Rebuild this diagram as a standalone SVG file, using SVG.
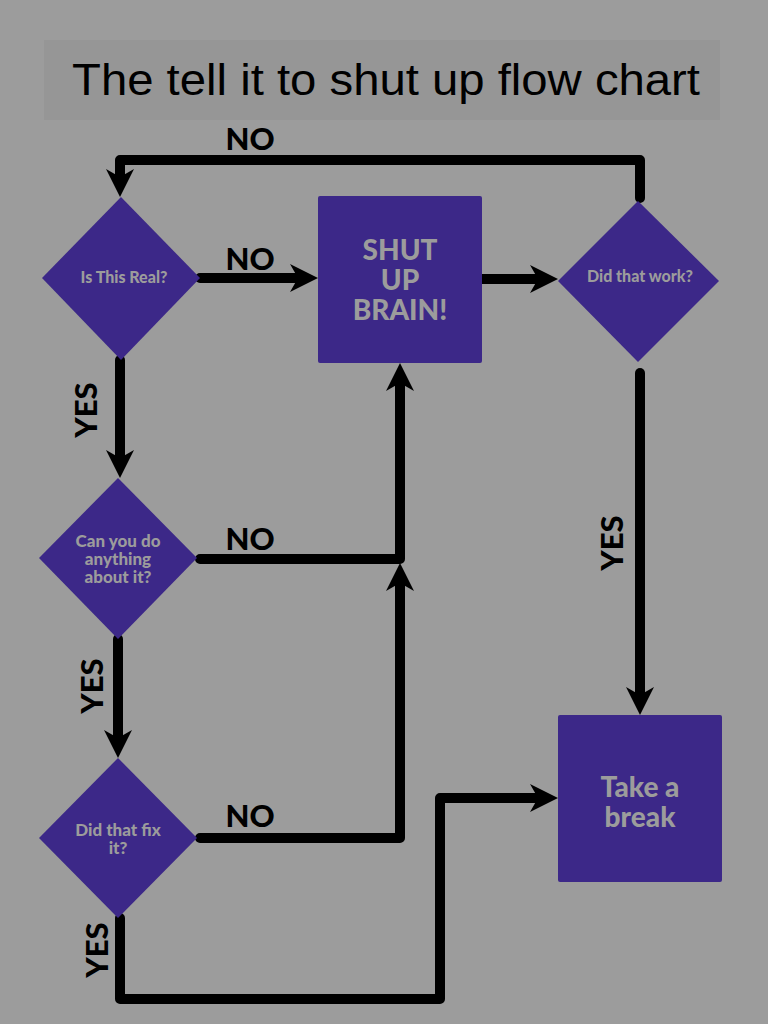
<svg xmlns="http://www.w3.org/2000/svg" width="768" height="1024" viewBox="0 0 768 1024">
<defs>
<marker id="ah" viewBox="0 0 28 28" refX="8" refY="14" markerWidth="28" markerHeight="28" markerUnits="userSpaceOnUse" orient="auto">
<path d="M0,0 L28,14 L0,28 L8,14 Z" fill="#000"/>
</marker>
<style>
.bg{fill:#9c9c9c}
.node{fill:#3c2888}
.nt{font-family:Lato,"Open Sans",sans-serif;font-weight:900;fill:#9c9c9c;text-anchor:middle}
.lbl{font-family:Lato,"Open Sans",sans-serif;font-weight:900;font-size:31px;fill:#000;text-anchor:middle}
.c{fill:none;stroke:#000;stroke-width:10;stroke-linecap:round;stroke-linejoin:round}
</style>
</defs>
<rect class="bg" x="0" y="0" width="768" height="1024"/>
<g id="title">
<rect x="44" y="40" width="676" height="80" fill="#969696"/>
<text x="72" y="95" font-family="'Liberation Sans',Arial,sans-serif" font-size="45" fill="#000" textLength="628" lengthAdjust="spacingAndGlyphs">The tell it to shut up flow chart</text>
</g>
<g id="connectors">
<path class="c" d="M640,198 V160 H120 V177" marker-end="url(#ah)"/>
<path class="c" d="M200,278 H298" marker-end="url(#ah)"/>
<path class="c" d="M482,279 H538" marker-end="url(#ah)"/>
<path class="c" d="M120,360 V458" marker-end="url(#ah)"/>
<path class="c" d="M118,639 V738" marker-end="url(#ah)"/>
<path class="c" d="M200,559 H400 V383" marker-end="url(#ah)"/>
<path class="c" d="M200,838 H400 V583" marker-end="url(#ah)"/>
<path class="c" d="M640,373 V695" marker-end="url(#ah)"/>
<path class="c" d="M120,918 V999 H440 V798 H538" marker-end="url(#ah)"/>
<text class="lbl" x="250" y="150">NO</text>
<text class="lbl" x="250" y="270">NO</text>
<text class="lbl" x="250" y="550">NO</text>
<text class="lbl" x="250" y="827">NO</text>
<text class="lbl" transform="translate(97,410) rotate(-90)">YES</text>
<text class="lbl" transform="translate(103,686) rotate(-90)">YES</text>
<text class="lbl" transform="translate(108,950) rotate(-90)">YES</text>
<text class="lbl" transform="translate(623,543) rotate(-90)">YES</text>
</g>
<g id="is-this-real">
<polygon class="node" points="121,197 200,278 121,360 42,278"/>
<text class="nt" x="124" y="283" font-size="16">Is This Real?</text>
</g>
<g id="shut-up-brain">
<rect class="node" x="318" y="196" width="164" height="167" rx="2"/>
<text class="nt" x="400" y="260" font-size="28">SHUT</text>
<text class="nt" x="400" y="290" font-size="28">UP</text>
<text class="nt" x="400" y="320" font-size="28">BRAIN!</text>
</g>
<g id="did-that-work">
<polygon class="node" points="638,201 719,281 638,362 558,281"/>
<text class="nt" x="640" y="282" font-size="16">Did that work?</text>
</g>
<g id="can-you-do">
<polygon class="node" points="118,478 197,558 118,639 39,558"/>
<text class="nt" x="118" y="547" font-size="17">Can you do</text>
<text class="nt" x="118" y="565" font-size="17">anything</text>
<text class="nt" x="118" y="583" font-size="17">about it?</text>
</g>
<g id="did-that-fix">
<polygon class="node" points="118,758 197,838 118,918 39,838"/>
<text class="nt" x="118" y="836" font-size="17">Did that fix</text>
<text class="nt" x="118" y="854" font-size="17">it?</text>
</g>
<g id="take-a-break">
<rect class="node" x="558" y="715" width="164" height="167" rx="2"/>
<text class="nt" x="640" y="797" font-size="28">Take a</text>
<text class="nt" x="640" y="827" font-size="28">break</text>
</g>
</svg>
